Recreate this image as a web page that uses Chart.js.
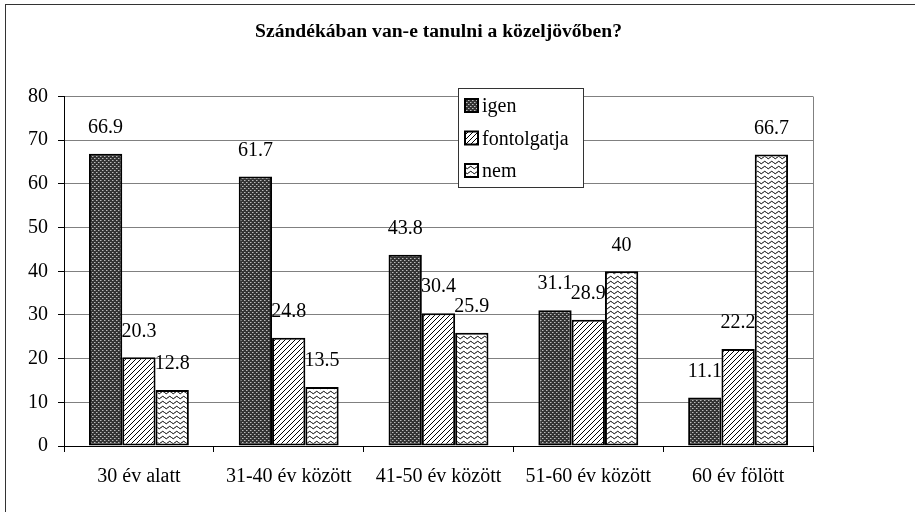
<!DOCTYPE html>
<html>
<head>
<meta charset="utf-8">
<script src="https://cdn.jsdelivr.net/npm/chart.js@4.4.1/dist/chart.umd.min.js"></script>
<style>
    body { margin: 0; background: #fff; }
    #wrap { width: 915px; height: 512px; }
</style>
</head>
<body>
<div id="wrap"><canvas id="chart" width="915" height="512"></canvas></div>
<script>
const categories = ["30 év alatt", "31-40 év között", "41-50 év között", "51-60 év között", "60 év fölött"];
const seriesNames = ["igen", "fontolgatja", "nem"];
const igen = [66.9, 61.7, 43.8, 31.1, 11.1];
const fontolgatja = [20.3, 24.8, 30.4, 28.9, 22.2];
const nem = [12.8, 13.5, 25.9, 40, 66.7];
const yTicks = [0, 10, 20, 30, 40, 50, 60, 70, 80];

const serif = "'Liberation Serif', 'Times New Roman', serif";

// fill patterns like the old office ones
function makePattern(w, h, drawFn) {
    const c = document.createElement("canvas");
    c.width = w;
    c.height = h;
    const g = c.getContext("2d");
    drawFn(g);
    return document.getElementById("chart").getContext("2d").createPattern(c, "repeat");
}

const dotPattern = makePattern(4, 4, (g) => {
    g.fillStyle = "#333";
    g.fillRect(0, 0, 4, 4);
    g.fillStyle = "#bbb";
    g.fillRect(0, 0, 1, 1);
    g.fillRect(2, 2, 1, 1);
    g.fillStyle = "#777";
    g.fillRect(1, 0, 1, 1);
    g.fillRect(3, 2, 1, 1);
});

const hatchPattern = makePattern(5, 5, (g) => {
    g.fillStyle = "#fff";
    g.fillRect(0, 0, 5, 5);
    g.strokeStyle = "#000";
    g.lineWidth = 1;
    g.beginPath();
    g.moveTo(-1, 6);
    g.lineTo(6, -1);
    g.moveTo(-1, 1);
    g.lineTo(1, -1);
    g.moveTo(4, 6);
    g.lineTo(6, 4);
    g.stroke();
});

const wavePattern = makePattern(7, 5, (g) => {
    g.fillStyle = "#fff";
    g.fillRect(0, 0, 7, 5);
    g.strokeStyle = "#000";
    g.lineWidth = 1;
    g.beginPath();
    g.moveTo(0, 2.5);
    g.quadraticCurveTo(1.75, 0, 3.5, 2.5);
    g.quadraticCurveTo(5.25, 5, 7, 2.5);
    g.stroke();
});

const fills = [dotPattern, hatchPattern, wavePattern];

const extras = {
    id: "extras",
    beforeDraw(chart) {
        const ctx = chart.ctx;
        ctx.save();
        ctx.fillStyle = "#fff";
        ctx.fillRect(0, 0, chart.width, chart.height);
        ctx.strokeStyle = "#333";
        ctx.lineWidth = 1;
        ctx.strokeRect(5.5, 4.5, 2000, 2000);
        ctx.restore();
    },
    afterDatasetsDraw(chart) {
        const ctx = chart.ctx;
        const area = chart.chartArea;
        ctx.save();
        // right border of the plot
        ctx.strokeStyle = "#808080";
        ctx.lineWidth = 1;
        ctx.beginPath();
        ctx.moveTo(Math.round(area.right) + 0.5, area.top);
        ctx.lineTo(Math.round(area.right) + 0.5, area.bottom);
        ctx.stroke();

        // value labels
        ctx.fillStyle = "#000";
        ctx.font = "20px " + serif;
        ctx.textAlign = "center";
        ctx.textBaseline = "middle";
        chart.data.datasets.forEach((ds, i) => {
            chart.getDatasetMeta(i).data.forEach((bar, j) => {
                ctx.fillText(String(ds.data[j]), bar.x, bar.y - 26);
            });
        });

        // legend box
        const lx = 458, ly = 88, lw = 125, lh = 99;
        ctx.fillStyle = "#fff";
        ctx.fillRect(lx, ly, lw, lh);
        ctx.strokeStyle = "#333";
        ctx.strokeRect(lx + 0.5, ly + 0.5, lw, lh);
        ctx.textAlign = "left";
        chart.data.datasets.forEach((ds, i) => {
            const cy = 106 + i * 32.5;
            ctx.fillStyle = ds.backgroundColor;
            ctx.fillRect(465, cy - 7, 13, 13);
            ctx.strokeStyle = "#000";
            ctx.lineWidth = 2;
            ctx.strokeRect(465, cy - 7, 13, 13);
            ctx.fillStyle = "#000";
            ctx.fillText(ds.label, 482, cy + 1);
        });
        ctx.restore();
    }
};

const datasets = [igen, fontolgatja, nem].map((vals, i) => ({
    label: seriesNames[i],
    data: vals,
    backgroundColor: fills[i],
    borderColor: "#000",
    borderWidth: 2,
    borderSkipped: false,
    categoryPercentage: 0.667,
    barPercentage: 1
}));

new Chart(document.getElementById("chart"), {
    type: "bar",
    data: { labels: categories, datasets: datasets },
    plugins: [extras],
    options: {
        responsive: false,
        devicePixelRatio: 1,
        animation: false,
        layout: { padding: { left: 5, right: 102, top: 18, bottom: 16 } },
        plugins: {
            legend: { display: false },
            tooltip: { enabled: false },
            title: {
                display: true,
                fullSize: false,
                text: "Szándékában van-e tanulni a közeljövőben?",
                color: "#000",
                font: { family: serif, size: 19.6, weight: "bold", lineHeight: 1.2 },
                padding: { top: 2, bottom: 53 }
            }
        },
        scales: {
            x: {
                afterFit: (axis) => { axis.height = 50; },
                grid: {
                    offset: true,
                    drawOnChartArea: false,
                    tickLength: 6,
                    tickColor: "#000"
                },
                border: { color: "#000", width: 1 },
                ticks: {
                    color: "#000",
                    font: { family: serif, size: 20 },
                    padding: 13,
                    maxRotation: 0
                }
            },
            y: {
                min: 0,
                max: 80,
                afterFit: (axis) => { axis.width = 59; },
                afterBuildTicks: (axis) => { axis.ticks = yTicks.map((v) => ({ value: v })); },
                grid: {
                    color: "#808080",
                    tickColor: "#000",
                    tickLength: 6
                },
                border: { color: "#000", width: 1 },
                ticks: {
                    color: "#000",
                    font: { family: serif, size: 20 },
                    padding: 10
                }
            }
        }
    }
});
</script>
</body>
</html>
